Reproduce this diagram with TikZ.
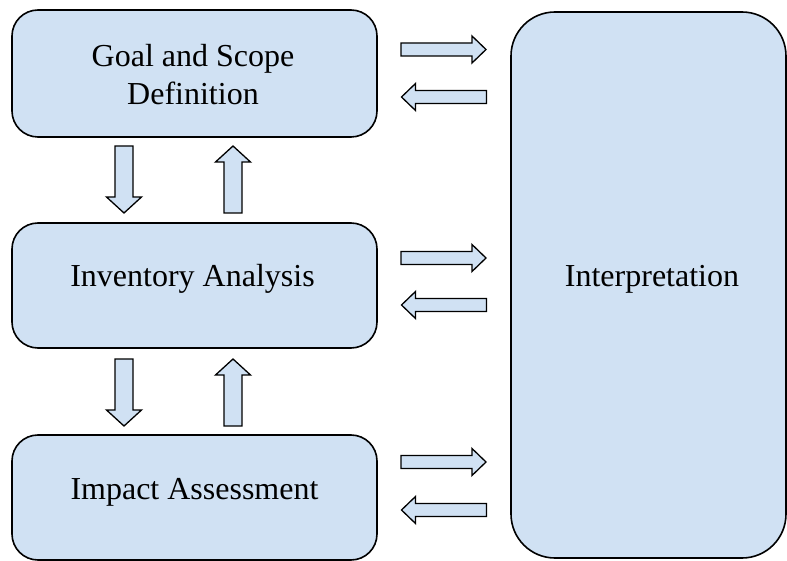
\documentclass[tikz,border=0pt]{standalone}
\usepackage{fontspec}
\setmainfont{Liberation Serif}
\definecolor{boxfill}{HTML}{D0E1F3}
\tikzset{
  stage/.style={draw=black, line width=1.6pt, fill=boxfill, rounded corners=26pt, inner sep=0pt},
  interp/.style={draw=black, line width=1.6pt, fill=boxfill, rounded corners=44pt, inner sep=0pt},
  lbl/.style={font=\fontsize{32}{38}\selectfont, align=center, inner sep=0pt},
  barrow/.style={draw=black, line width=1.3pt, fill=boxfill, line join=miter},
  harr/.pic={\draw[barrow] (-42.5,-6.5) -- (28.5,-6.5) -- (28.5,-13.5) -- (42.5,0) -- (28.5,13.5) -- (28.5,6.5) -- (-42.5,6.5) -- cycle;},
  varr/.pic={\draw[barrow] (-9,-33.5) -- (9,-33.5) -- (9,17.5) -- (17.5,17.5) -- (0,33.5) -- (-17.5,17.5) -- (-9,17.5) -- cycle;}
}
\begin{document}
\begin{tikzpicture}[x=1pt,y=-1pt]
\useasboundingbox (0,0) rectangle (787,561);
% stage boxes
\node[stage, minimum width=365pt, minimum height=127pt] (goal) at (194.5,73.5) {};
\node[stage, minimum width=365pt, minimum height=125pt] (inv) at (194.5,285.5) {};
\node[stage, minimum width=365pt, minimum height=125pt] (imp) at (194.5,497.5) {};
\node[interp, minimum width=275pt, minimum height=546pt] (int) at (648.5,285) {};
% labels
\node[lbl] (goalt) at (193,75) {Goal and Scope\\Definition};
\node[lbl, anchor=base] (invt) at (192.5,287) {Inventory Analysis};
\node[lbl, anchor=base] (impt) at (194.5,499) {Impact Assessment};
\node[lbl, anchor=base] (intt) at (652,287) {Interpretation};
% vertical block arrows
\pic at (124,179.5) {varr};
\pic[yscale=-1] at (233,179.5) {varr};
\pic at (124,392.5) {varr};
\pic[yscale=-1] at (233,392.5) {varr};
% horizontal block arrows
\pic at (443.5,49.5) {harr};
\pic[xscale=-1] at (444,97) {harr};
\pic at (443.5,258) {harr};
\pic[xscale=-1] at (444,305) {harr};
\pic at (443.5,462) {harr};
\pic[xscale=-1] at (444,510) {harr};
\end{tikzpicture}
\end{document}
